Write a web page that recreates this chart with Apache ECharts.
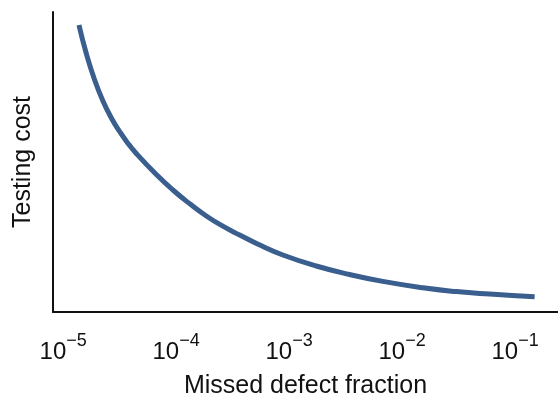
<!DOCTYPE html>
<html>
<head>
<meta charset="utf-8">
<script src="https://cdn.jsdelivr.net/npm/echarts@6/dist/echarts.min.js"></script>
<style>
  html, body { margin: 0; padding: 0; background: #fff; }
  #chart { width: 558px; height: 400px; }
</style>
</head>
<body>
<div id="chart"></div>
<script>
// missed defect fraction (x, log axis) and relative testing cost (y, no units)
var missedFraction = [1.38e-5, 1.60e-5, 1.90e-5, 2.25e-5, 2.67e-5, 3.16e-5, 3.72e-5, 4.44e-5,
    6.68e-5, 9.37e-5, 1.32e-4, 1.85e-4, 2.59e-4, 3.65e-4, 5.26e-4, 8.81e-4, 1.74e-3, 3.43e-3,
    6.76e-3, 0.0153, 0.0302, 0.0596, 0.149];
var testingCost = [287, 258.7, 232, 211, 194, 180.5, 169.1, 158.5, 137.5, 122, 108.2, 96, 85.8,
    77, 68, 57, 46, 37.5, 30.6, 24.2, 20.4, 17.9, 15.2];
var xMin = 8.13e-6, xMax = 0.24;
var yMin = 0, yMax = 300;

var font = 'Liberation Sans, Arial, Helvetica, sans-serif';
var chart = echarts.init(document.getElementById('chart'));

var points = [];
for (var i = 0; i < missedFraction.length; i++) {
    points.push([missedFraction[i], testingCost[i]]);
}

var option = {
    backgroundColor: '#ffffff',
    animation: false,
    grid: { left: 53, right: 0, top: 12, bottom: 88, containLabel: false, outerBoundsMode: 'none' },
    xAxis: {
        type: 'log',
        logBase: 10,
        min: xMin,
        max: xMax,
        name: 'Missed defect fraction',
        nameLocation: 'middle',
        nameGap: 62,
        nameTextStyle: { fontFamily: font, fontSize: 25, color: '#111' },
        axisLine: { show: true, lineStyle: { color: '#111', width: 2 } },
        axisTick: { show: false },
        splitLine: { show: false },
        axisLabel: {
            showMinLabel: false,
            showMaxLabel: false,
            margin: 20,
            formatter: function (v) {
                var e = Math.round(Math.log10(v));
                return '{b|10}{s|\u2212' + (-e) + '}';
            },
            rich: {
                b: { fontFamily: font, fontSize: 24, color: '#111', lineHeight: 32, verticalAlign: 'bottom' },
                s: { fontFamily: font, fontSize: 18, color: '#111', lineHeight: 10, verticalAlign: 'top' }
            }
        }
    },
    yAxis: {
        type: 'value',
        min: yMin,
        max: yMax,
        name: 'Testing cost',
        nameLocation: 'middle',
        nameGap: 17,
        nameTextStyle: { fontFamily: font, fontSize: 25, color: '#111' },
        axisLine: { show: true, lineStyle: { color: '#111', width: 2 } },
        axisTick: { show: false },
        axisLabel: { show: false },
        splitLine: { show: false }
    },
    series: [{
        type: 'line',
        data: points,
        smooth: 0.5,
        showSymbol: false,
        lineStyle: { color: '#3A5E8E', width: 5, cap: 'butt' }
    }]
};
chart.setOption(option);
</script>
</body>
</html>
